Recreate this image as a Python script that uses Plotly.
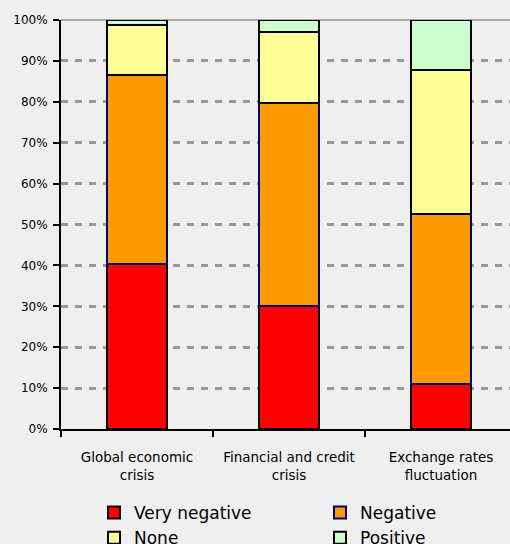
import plotly.graph_objects as go

categories = ["Global economic<br>crisis", "Financial and credit<br>crisis", "Exchange rates<br>fluctuation"]
very_negative = [40.4, 30.0, 10.9]
negative = [46.1, 49.6, 41.6]
none_vals = [12.2, 17.4, 35.2]
positive = [1.3, 3.0, 12.3]

series = [
    ("Very negative", very_negative, "#FF0000", "#000000", "legend"),
    ("Negative", negative, "#FF9900", "#000080", "legend2"),
    ("None", none_vals, "#FFFF99", "#000000", "legend"),
    ("Positive", positive, "#CCFFCC", "#000000", "legend2"),
]

FONT = "DejaVu Sans, Verdana, sans-serif"

fig = go.Figure()
for name, vals, color, line, leg in series:
    fig.add_trace(go.Bar(
        x=categories, y=[v / 100 for v in vals], name=name,
        marker=dict(color=color, line=dict(color=line, width=2)),
        width=0.4, legend=leg,
    ))

legend_common = dict(
    orientation="v", xref="container", yref="container",
    xanchor="left", yanchor="top",
    font=dict(size=17, family=FONT, color="#000000"),
    traceorder="normal", bgcolor="rgba(0,0,0,0)", borderwidth=0,
    itemsizing="constant", tracegroupgap=0,
)

fig.update_layout(
    width=510, height=544,
    barmode="stack",
    paper_bgcolor="#EFEFEF", plot_bgcolor="#EFEFEF",
    margin=dict(l=61, r=0, t=19.5, b=114.5, autoexpand=False),
    font=dict(family=FONT, size=12, color="#000000"),
    showlegend=True,
    legend=dict(x=94 / 510, y=1 - 495 / 544, **legend_common),
    legend2=dict(x=320 / 510, y=1 - 495 / 544, **legend_common),
)
fig.update_yaxes(
    range=[0, 1], tickformat=".0%", dtick=0.1,
    showgrid=True, gridcolor="#999999", griddash="7px,7px", gridwidth=3,
    showline=True, linecolor="#000000", linewidth=2,
    ticks="outside", ticklen=6, tickwidth=2, tickcolor="#000000",
    tickfont=dict(size=12), zeroline=False, ticklabelstandoff=3,
)
fig.update_xaxes(
    range=[-0.5, 2.454], tickson="boundaries",
    showline=True, linecolor="#000000", linewidth=2,
    ticks="outside", ticklen=6, tickwidth=2, tickcolor="#000000",
    tickfont=dict(size=13.5), showgrid=False, ticklabelstandoff=15,
    tickangle=0,
)
fig.add_shape(type="line", xref="paper", yref="paper", x0=0, x1=1, y0=1, y1=1,
              line=dict(color="#AAAAAA", width=2), layer="below")
fig.write_html("out.html")
